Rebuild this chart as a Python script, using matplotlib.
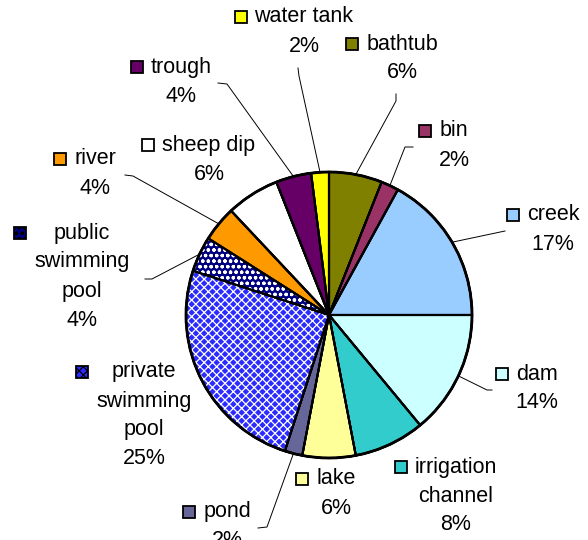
import numpy as np
import matplotlib.pyplot as plt
from matplotlib.patches import Wedge, Rectangle

plt.rcParams['font.family'] = ['Liberation Sans', 'DejaVu Sans']
plt.rcParams['hatch.linewidth'] = 0.9

# clockwise from 12 o'clock
categories = ['bathtub', 'bin', 'creek', 'dam', 'irrigation\nchannel', 'lake', 'pond',
              'private\nswimming\npool', 'public\nswimming\npool', 'river',
              'sheep dip', 'trough', 'water tank']
shares = [6, 2, 17, 14, 8, 6, 2, 25, 4, 4, 6, 4, 2]
colors = ['#808000', '#993366', '#99CCFF', '#CCFFFF', '#33CCCC', '#FFFF99', '#666699',
          '#2B2BFF', '#000080', '#FF9900', '#FFFFFF', '#660066', '#FFFF00']
hatches = [None] * 7 + ['xxxx', 'ooo'] + [None] * 4

W, H = 588, 540


def px(x, y):
    # picture pixels (origin top-left) -> data units
    return x, H - y


# label block: centre x, first line y (pixels)
label_xy = [(402, 44), (454, 131), (553, 215), (537, 374), (456, 467), (336, 479),
            (227, 512), (144, 372), (82, 233), (95, 159), (209, 145), (181, 67),
            (304, 17)]
# leader line points on the label side
leaders = {
    0: [(396, 94), (396, 101)],
    1: [(413, 147), (405, 147)],
    2: [(505, 231)],
    3: [(492, 390), (487, 390)],
    6: [(258, 528), (267, 527)],
    8: [(145, 279), (152, 279)],
    9: [(125, 175), (133, 176)],
    11: [(218, 83), (227, 84)],
    12: [(298, 68), (299, 76)],
}

fig = plt.figure(figsize=(5.88, 5.40), dpi=100)
ax = fig.add_axes([0, 0, 1, 1])

cx, cy = px(329, 315)
R = 143
wedges, _ = ax.pie(shares, colors=colors, startangle=90, counterclock=False,
                   center=(cx, cy), radius=R,
                   wedgeprops=dict(edgecolor='black', linewidth=1.5))
ax.set_xlim(0, W)
ax.set_ylim(0, H)
ax.set_aspect('auto')
ax.axis('off')

# patterned slices
for w, h in zip(wedges, hatches):
    if h:
        ax.add_patch(Wedge(w.center, w.r, w.theta1, w.theta2, facecolor='none',
                           edgecolor='white', lw=0, hatch=h, zorder=w.get_zorder() + 0.1))
for w in wedges:
    ax.add_patch(Wedge(w.center, w.r, w.theta1, w.theta2, fill=False,
                       edgecolor='black', lw=1.5, zorder=w.get_zorder() + 0.2))
ax.add_patch(plt.Circle((cx, cy), R, fill=False, edgecolor='black', lw=2, zorder=5))

# leader lines
for i, pts in leaders.items():
    w = wedges[i]
    mid = np.deg2rad((w.theta1 + w.theta2) / 2)
    ex, ey = cx + R * np.cos(mid), cy + R * np.sin(mid)
    xs = [px(*p)[0] for p in pts] + [ex]
    ys = [px(*p)[1] for p in pts] + [ey]
    ax.plot(xs, ys, color='black', lw=0.7, zorder=6)

# labels
texts = []
for i, (cat, v) in enumerate(zip(categories, shares)):
    lines = cat.split('\n') + [f'{v}%']
    x0, y0 = label_xy[i]
    row = []
    for k, ln in enumerate(lines):
        tx, ty = px(x0, y0 + 29 * k)
        row.append(ax.text(tx, ty, ln, ha='center', va='center', fontsize=15.5,
                           color='black', zorder=7))
    texts.append(row)

fig.canvas.draw()
r = fig.canvas.get_renderer()
for i, row in enumerate(texts):
    left = min(t.get_window_extent(r).x0 for t in row)
    left = ax.transData.inverted().transform((left, 0))[0]
    _, ky = px(0, label_xy[i][1])
    ax.add_patch(Rectangle((left - 20, ky - 6), 12, 12, facecolor=colors[i],
                           edgecolor='black', lw=1.3, hatch=hatches[i], zorder=7))

fig.savefig('out.png', dpi=100)
